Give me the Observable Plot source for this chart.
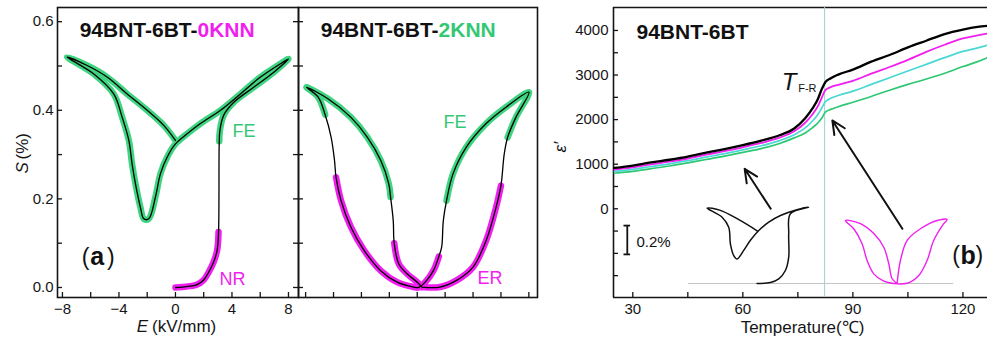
<!DOCTYPE html>
<html><head><meta charset="utf-8">
<script src="https://cdn.jsdelivr.net/npm/d3@7"></script>
<script src="https://cdn.jsdelivr.net/npm/@observablehq/plot@0.6"></script>
<style>
html,body{margin:0;padding:0;background:#fff;overflow:hidden}
#wrap{position:relative;width:987px;height:345px}
.p{position:absolute;top:0}
</style></head><body><div id="wrap"></div>
<script>
// ---------- Panel (a): 94BNT-6BT-0KNN, S(%) vs E(kV/mm) ----------
const eA = [0, 0.5, 1.0, 1.5, 2.0, 2.36, 2.71, 2.95, 3.05,
  3.1, 3.15, 3.42, 4.13, 5.54, 6.96, 8.0,
  7.43, 6.02, 4.6, 3.19, 1.77, 0.83, 0,
  -0.59, -1.06, -1.42, -1.89, -2.24, -2.48, -2.83, -3.07, -3.30, -3.77, -4.37, -5.78, -7.67,
  -6.25, -4.84, -3.42, -2.0, -0.83, 0];
const sA = [0, 0.001, 0.003, 0.006, 0.017, 0.035, 0.058, 0.084, 0.125,
  0.33, 0.355, 0.389, 0.418, 0.452, 0.486, 0.516,
  0.505, 0.475, 0.437, 0.40, 0.37, 0.347, 0.324,
  0.294, 0.257, 0.204, 0.155, 0.155, 0.181, 0.234, 0.279, 0.332, 0.384, 0.437, 0.482, 0.52,
  0.501, 0.475, 0.437, 0.40, 0.366, 0.332];
const phaseA = [...Array(9).fill("NR"), ...Array(33).fill("FE")];

// ---------- Middle panel: 94BNT-6BT-2KNN ----------
const eM = [0.33, 1.63, 2.82, 4.0, 4.94, 5.65, 6.0,
  6.24,
  6.48, 7.07, 8.01, 6.36, 4.94, 3.52, 2.57, 2.1,
  1.87, 1.75,
  1.55, 1.16, 0.57, 0.1, -0.26, -1.44, -2.62, -3.81, -4.75, -5.46, -5.82,
  -5.93, -6.17,
  -6.6, -7.11, -7.94, -6.40, -4.75, -3.57, -2.62, -2.04, -1.91,
  -1.72,
  -1.65, -1.32, -0.73, 0, 0.33];
const sM = [0.001, 0.001, 0.016, 0.046, 0.106, 0.181, 0.23,
  0.302,
  0.339, 0.384, 0.441, 0.407, 0.37, 0.317, 0.257, 0.196,
  0.151, 0.091,
  0.07, 0.038, 0.012, 0.0, 0.001, 0.012, 0.038, 0.084, 0.136, 0.196, 0.249,
  0.287, 0.339,
  0.39, 0.43, 0.452, 0.426, 0.384, 0.339, 0.287, 0.234, 0.204,
  0.151,
  0.10, 0.053, 0.031, 0.012, 0.001];
const phaseM = [...Array(7).fill("ER"), "", ...Array(8).fill("FE"), "", "",
  ...Array(11).fill("ER"), "", "", ...Array(9).fill("FE"), "", ...Array(5).fill("ER")];

// ---------- Panel (b): permittivity vs temperature ----------
const temps = [25, 30, 35, 40, 45, 50, 55, 60, 65, 70, 74, 77, 79, 80.5, 81.5, 82.5, 84, 86, 90, 95, 100, 105, 110, 115, 120, 124, 126.7];
const epsBlack   = [917, 970, 1040, 1100, 1170, 1260, 1340, 1430, 1530, 1650, 1800, 2030, 2250, 2470, 2680, 2840, 2930, 3010, 3120, 3300, 3450, 3620, 3770, 3920, 4020, 4080, 4105];
const epsMagenta = [881, 931, 998, 1058, 1128, 1214, 1292, 1380, 1476, 1595, 1737, 1930, 2120, 2310, 2490, 2660, 2730, 2780, 2870, 3030, 3180, 3340, 3520, 3680, 3820, 3890, 3930];
const epsCyan    = [837, 885, 949, 1009, 1079, 1159, 1236, 1323, 1413, 1530, 1663, 1815, 1970, 2120, 2260, 2400, 2480, 2540, 2640, 2790, 2940, 3090, 3240, 3390, 3530, 3610, 3670];
const epsGreen   = [797, 840, 900, 960, 1030, 1105, 1180, 1265, 1350, 1465, 1590, 1700, 1820, 1930, 2030, 2170, 2230, 2290, 2390, 2520, 2660, 2790, 2910, 3040, 3190, 3300, 3390];
const TFR = 82.3;

// inset loops (E in kV/mm, S in %)
const insetBlackE = [0.1, 2.15, 3.43, 4.45, 4.96, 4.96, 5.22, 8.0, 6.2, 3.69, 1.9, 0.36, -0.92, -1.95, -2.97, -3.48, -3.99, -4.25, -5.27, -7.57, -5.53, -2.97, 0.1];
const insetBlackS = [0, 0.007, 0.032, 0.09, 0.183, 0.345, 0.484, 0.53, 0.512, 0.472, 0.426, 0.368, 0.3, 0.23, 0.17, 0.194, 0.274, 0.39, 0.46, 0.524, 0.508, 0.45, 0.366];
const insetMagE = [0.26, 0.77, 1.8, 3.84, 6.4, 7.94, 7.42, 5.89, 4.87, 3.59, 1.8, -0.26, -1.79, -3.33, -4.35, -5.12, -6.4, -7.68, -5.38, -3.33, -1.79, -1.02, -0.5, 0.26];
const insetMagS = [0.0, 0.16, 0.3, 0.38, 0.4375, 0.444, 0.416, 0.3, 0.16, 0.056, 0.002, 0.0, 0.016, 0.067, 0.16, 0.276, 0.38, 0.4375, 0.416, 0.347, 0.252, 0.137, 0.033, 0.0];
// inset placement inside panel (b): origin temperature, baseline permittivity, scale factors
const insetBlackT0 = 63.7, insetMagT0 = 101.6, insetEps0 = -1676, insetKT = 1.775, insetKEps = 3230;
const arrowsB = [{x1: 67.6, y1: 0, x2: 60.5, y2: 897}, {x1: 103.5, y1: -449, x2: 84.4, y2: 1981}];
const baselineB = [{y: insetEps0, x1: 45.2, x2: 117.5}];
const scaleBar = {T: 28.5, center: -700, S: 0.2};

// ticks
const ticksEminor = [-8, -6, -4, -2, 0, 2, 4, 6, 8];
const ticksElab = [-8, -4, 0, 4, 8];
const ticksSminor = [0, 0.1, 0.2, 0.3, 0.4, 0.5, 0.6];
const ticksSlab = [0, 0.2, 0.4, 0.6];
const ticksTminor = [30, 45, 60, 75, 90, 105, 120];
const ticksTlab = [30, 60, 90, 120];
const ticksEpsMinor = [-1500, -1000, -500, 0, 500, 1000, 1500, 2000, 2500, 3000, 3500, 4000];
const ticksEpsLab = [0, 1000, 2000, 3000, 4000];

// ---------- styling ----------
const FONT = "'Liberation Sans', Arial, Helvetica, sans-serif";
const INK = "#151515";
const GREEN = "#3fd480", GREENTXT = "#35c874", MAG = "#f01ff0";
const TK = 5; // inward tick length (px)
const H = 345, MT = 7, MB = 48, FH = H - MT - MB;
const baseStyle = {background: "transparent", overflow: "visible", fontFamily: FONT, fontSize: "15px", color: INK};

function coating(E, S, phase) {
  const rows = []; let seg = 0;
  for (let i = 0; i < E.length; i++) {
    if (i > 0 && phase[i] !== phase[i - 1]) seg++;
    if (phase[i] !== "") rows.push({E: E[i], S: S[i], phase: phase[i], seg});
  }
  return rows;
}
function loopRows(E, S) { return E.map((e, i) => ({E: e, S: S[i]})); }
function coatMarks(rows) {
  const opt = {x: "E", y: "S", z: "seg", strokeWidth: 6.5, strokeLinecap: "round", strokeLinejoin: "round", curve: "catmull-rom"};
  return [
    Plot.line(rows.filter(d => d.phase === "FE"), {...opt, stroke: GREEN}),
    Plot.line(rows.filter(d => d.phase !== "FE"), {...opt, stroke: MAG})
  ];
}
const T = (arr, o) => Plot.text(arr, {x: "x", y: "y", text: "t", ...o});
// inward tick marks drawn with tick marks insets
const inX = ticks => Plot.tickX(ticks, {x: d => d, insetTop: FH - TK, stroke: INK, strokeWidth: 1.3});
const inYL = (ticks, fw) => Plot.tickY(ticks, {y: d => d, insetRight: fw - TK, stroke: INK, strokeWidth: 1.3});
const inYR = (ticks, fw) => Plot.tickY(ticks, {y: d => d, insetLeft: fw - TK, stroke: INK, strokeWidth: 1.3});

const wrap = document.getElementById("wrap");
function place(svg, left) { const d = document.createElement("div"); d.className = "p"; d.style.left = left + "px"; d.appendChild(svg); wrap.appendChild(d); }

// ---------- Panel (a) ----------
const WA = 300, MLA = 57, MRA = 2, FWA = WA - MLA - MRA;
const plotA = Plot.plot({
  width: WA, height: H, marginLeft: MLA, marginRight: MRA, marginTop: MT, marginBottom: MB,
  x: {domain: [-8.35, 8.71]}, y: {domain: [-0.0226, 0.632]},
  style: baseStyle,
  marks: [
    inX(ticksEminor), inYL(ticksSminor, FWA), inYR(ticksSminor, FWA),
    Plot.axisX({ticks: ticksElab, tickSize: 0, tickPadding: 6, label: null}),
    Plot.axisY({ticks: ticksSlab, tickSize: 0, tickPadding: 4, tickFormat: d3.format(".1f"), label: null}),
    Plot.frame({stroke: INK, strokeWidth: 1.6}),
    ...coatMarks(coating(eA, sA, phaseA)),
    Plot.line(loopRows(eA, sA), {x: "E", y: "S", stroke: "#000", strokeWidth: 1.3, curve: "catmull-rom"}),
    T([{x: 1.56, y: 0.58, t: "94BNT-6BT-"}], {textAnchor: "end", fontSize: 21, fontWeight: "bold", fill: "#111"}),
    T([{x: 1.56, y: 0.58, t: "0KNN"}], {textAnchor: "start", fontSize: 21, fontWeight: "bold", fill: MAG}),
    T([{x: 4.04, y: 0.352, t: "FE"}], {textAnchor: "start", fontSize: 18, fill: GREENTXT}),
    T([{x: 3.12, y: 0.018, t: "NR"}], {textAnchor: "start", fontSize: 18, fill: MAG}),
    T([{x: -6.37, y: 0.068, t: "("}, {x: -4.58, y: 0.068, t: ")"}], {fontSize: 23, fill: "#111"}),
    T([{x: -5.54, y: 0.068, t: "a"}], {fontSize: 25, fontWeight: "bold", fill: "#111"}),
    Plot.text(["S"], {frameAnchor: "left", dx: -35, dy: 21, rotate: -90, textAnchor: "start", fontStyle: "italic", fontSize: 17}),
    Plot.text(["(%)"], {frameAnchor: "left", dx: -35, dy: 7, rotate: -90, textAnchor: "start", fontSize: 17}),
    Plot.text(["E"], {frameAnchor: "bottom", dx: -30, dy: 34, textAnchor: "end", fontStyle: "italic", fontSize: 17}),
    Plot.text(["(kV/mm)"], {frameAnchor: "bottom", dx: -26, dy: 34, textAnchor: "start", fontSize: 17})
  ]
});
place(plotA, 0);

// ---------- Middle panel ----------
const WM = 249, MLM = 8, MRM = 2, FWM = WM - MLM - MRM;
const plotM = Plot.plot({
  width: WM, height: H, marginLeft: MLM, marginRight: MRM, marginTop: MT, marginBottom: MB,
  x: {domain: [-8.51, 8.62], axis: null}, y: {domain: [-0.0226, 0.632], axis: null},
  style: baseStyle,
  marks: [
    inX(ticksEminor), inYL(ticksSminor, FWM),
    Plot.frame({stroke: INK, strokeWidth: 1.6}),
    ...coatMarks(coating(eM, sM, phaseM)),
    Plot.line(loopRows(eM, sM), {x: "E", y: "S", stroke: "#000", strokeWidth: 1.3, curve: "catmull-rom"}),
    T([{x: 1.53, y: 0.58, t: "94BNT-6BT-"}], {textAnchor: "end", fontSize: 21, fontWeight: "bold", fill: "#111"}),
    T([{x: 1.53, y: 0.58, t: "2KNN"}], {textAnchor: "start", fontSize: 21, fontWeight: "bold", fill: GREENTXT}),
    T([{x: 1.89, y: 0.372, t: "FE"}], {textAnchor: "start", fontSize: 18, fill: GREENTXT}),
    T([{x: 4.32, y: 0.02, t: "ER"}], {textAnchor: "start", fontSize: 18, fill: MAG})
  ]
});
place(plotM, 290);

// ---------- Panel (b) ----------
const WB = 447, MLB = 73, FWB = WB - MLB;
const rowsB = temps.map((t, i) => ({T: t, k: epsBlack[i], m: epsMagenta[i], c: epsCyan[i], g: epsGreen[i]}));
const insetRows = (E, S, T0) => E.map((e, i) => ({T: T0 + e * insetKT, eps: insetEps0 + S[i] * insetKEps}));
const barY1 = scaleBar.center - scaleBar.S / 2 * insetKEps, barY2 = scaleBar.center + scaleBar.S / 2 * insetKEps;
const plotB = Plot.plot({
  width: WB, height: H, marginLeft: MLB, marginRight: 0, marginTop: MT, marginBottom: MB,
  x: {domain: [24.74, 126.7]}, y: {domain: [-1990, 4515]},
  style: baseStyle,
  marks: [
    inX(ticksTminor), inYL(ticksEpsMinor, FWB),
    Plot.axisX({ticks: ticksTlab, tickSize: 0, tickPadding: 6, label: null}),
    Plot.axisY({ticks: ticksEpsLab, tickSize: 0, tickPadding: 5, tickFormat: d3.format("d"), label: null}),
    Plot.ruleY([4515], {stroke: INK, strokeWidth: 1.6}),
    Plot.ruleY([-1990], {stroke: INK, strokeWidth: 1.6}),
    Plot.ruleX([24.74], {stroke: INK, strokeWidth: 1.6}),
    Plot.ruleX([TFR], {stroke: "#9ccfd0", strokeWidth: 1}),
    Plot.ruleY(baselineB, {y: "y", x1: "x1", x2: "x2", stroke: "#c4c4c4", strokeWidth: 1}),
    Plot.line(rowsB, {x: "T", y: "g", stroke: "#2ec873", strokeWidth: 1.7, curve: "monotone-x"}),
    Plot.line(rowsB, {x: "T", y: "c", stroke: "#4ad8d4", strokeWidth: 1.7, curve: "monotone-x"}),
    Plot.line(rowsB, {x: "T", y: "m", stroke: MAG, strokeWidth: 1.8, curve: "monotone-x"}),
    Plot.line(rowsB, {x: "T", y: "k", stroke: "#000", strokeWidth: 2.3, curve: "monotone-x"}),
    Plot.line(insetRows(insetBlackE, insetBlackS, insetBlackT0), {x: "T", y: "eps", stroke: "#111", strokeWidth: 1.5, curve: "catmull-rom"}),
    Plot.line(insetRows(insetMagE, insetMagS, insetMagT0), {x: "T", y: "eps", stroke: MAG, strokeWidth: 1.4, curve: "catmull-rom"}),
    Plot.arrow(arrowsB, {x1: "x1", y1: "y1", x2: "x2", y2: "y2", stroke: "#111", strokeWidth: 2, headLength: 11, headAngle: 50}),
    Plot.ruleX([{x: scaleBar.T, y1: barY1, y2: barY2}], {x: "x", y1: "y1", y2: "y2", stroke: "#111", strokeWidth: 1.8}),
    Plot.ruleY([barY1, barY2], {x1: scaleBar.T - 0.9, x2: scaleBar.T + 0.9, stroke: "#111", strokeWidth: 1.8}),
    T([{x: 31.0, y: scaleBar.center - 49, t: "0.2%"}], {textAnchor: "start", fontSize: 15, fill: "#111"}),
    T([{x: 31.0, y: 3955, t: "94BNT-6BT"}], {textAnchor: "start", fontSize: 21, fontWeight: "bold", fill: "#111"}),
    T([{x: 74.6, y: 2665, t: "T"}], {textAnchor: "end", lineAnchor: "bottom", fontSize: 24, fontStyle: "italic", fill: "#111"}),
    T([{x: 75.1, y: 2609, t: "F-R"}], {textAnchor: "start", lineAnchor: "bottom", fontSize: 11, fill: "#111"}),
    T([{x: 118.1, y: -1048, t: "("}, {x: 124.5, y: -1048, t: ")"}], {fontSize: 23, fill: "#111"}),
    T([{x: 121.4, y: -1048, t: "b"}], {fontSize: 25, fontWeight: "bold", fill: "#111"}),
    Plot.text(["ε′"], {frameAnchor: "left", dx: -53, rotate: -90, fontStyle: "italic", fontSize: 17}),
    Plot.text(["Temperature(℃)"], {frameAnchor: "bottom", dx: 2, dy: 35, fontSize: 17})
  ]
});
place(plotB, 540);
</script></body></html>
